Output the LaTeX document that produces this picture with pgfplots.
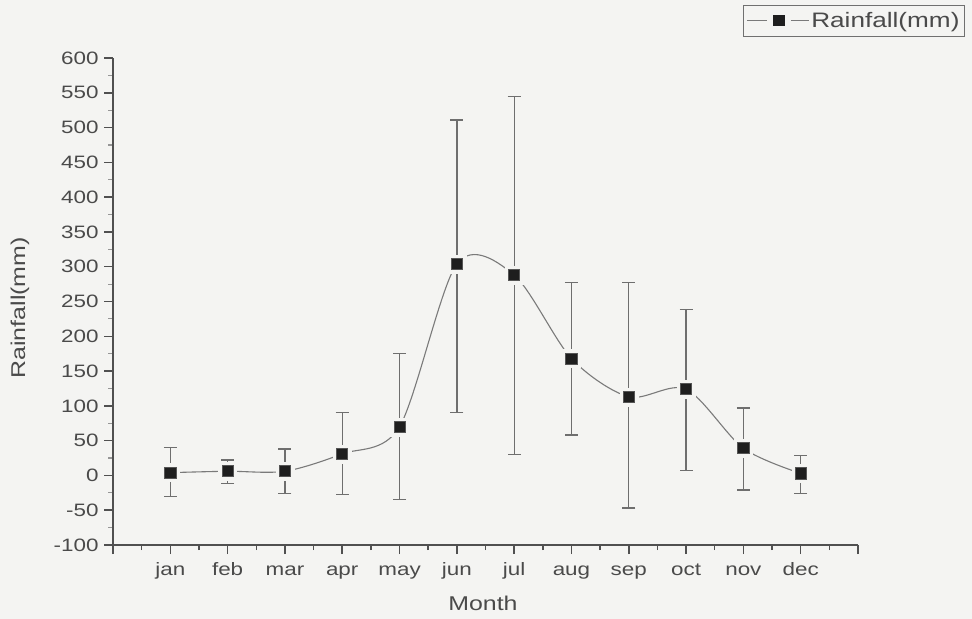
\documentclass[border=0pt]{standalone}
\usepackage{pgfplots}
\pgfplotsset{compat=1.18}
\usepackage{fontspec}
\setmainfont{Liberation Sans}[FakeStretch=1.25]
\definecolor{bg}{HTML}{F4F4F2}
\definecolor{axc}{HTML}{505050}
\definecolor{errc}{HTML}{6E6E6E}
\definecolor{lineg}{HTML}{7A7A7A}
\definecolor{mk}{HTML}{1E1E1E}
\definecolor{mkb}{HTML}{555555}
\definecolor{txt}{HTML}{4A4A4A}
\definecolor{legc}{HTML}{707070}
\pgfplotstableread{
x y ep em
0 4 36 34
1 6 16 18
2 6 32 32
3 31 59 58
4 70 105 105
5 304 207 214
6 288 257 258
7 168 109 110
8 113 164 160
9 124 114 117
10 39 58 60
11 3 26 29
}\rain
\begin{document}
\begin{tikzpicture}
\path[use as bounding box, fill=bg] (0,0) rectangle (972bp,619bp);
\begin{axis}[
  at={(113bp,74bp)}, anchor=south west,
  scale only axis, width=745bp, height=487bp,
  xmin=-1, xmax=12, ymin=-100, ymax=600,
  axis lines=left,
  axis line style={-, draw=axc, line width=1.6bp},
  xtick={-1,0,...,12},
  xticklabels={,jan,feb,mar,apr,may,jun,jul,aug,sep,oct,nov,dec,},
  minor x tick num=1,
  ytick={-100,-50,...,600}, minor y tick num=1,
  tick align=outside, major tick length=9bp, minor tick length=5bp,
  every tick/.style={draw=axc, line width=1.5bp},
  every minor y tick/.style={draw=axc!60, line width=1.2bp},
  /pgf/number format/assume math mode=true,
  ticklabel style={font=\fontsize{18}{21}\selectfont, text=txt},
  yticklabel style={xshift=-2bp},
  xticklabel style={text height=12bp, text depth=4bp, yshift=-6bp},
  every axis x label/.style={at={(axis description cs:0.4966,-0.119)}, anchor=center},
  every axis y label/.style={at={(axis description cs:-0.1248,0.487)}, rotate=90, anchor=center},
  label style={font=\fontsize{20}{24}\selectfont, text=txt},
  xlabel={Month}, ylabel={Rainfall(mm)},
  legend style={at={(1.1436,1.1088)}, anchor=north east, draw=legc, line width=1bp, fill=bg,
    font=\fontsize{21}{24}\selectfont, text=txt, inner xsep=3bp, inner ysep=5bp},
  legend cell align=left,
  clip=false,
]
\addplot[smooth, tension=0.5, draw=lineg, line width=1.1bp, no markers,
  legend image code/.code={\draw[draw=lineg, line width=1bp] (0bp,0bp) -- (20bp,0bp);
    \draw[draw=lineg, line width=1bp] (44bp,0bp) -- (62bp,0bp);
    \fill[mk] (27bp,-5bp) rectangle (38bp,5bp);}]
  table[x=x, y=y] {\rain};
\addlegendentry{Rainfall(mm)}
\addplot[forget plot, only marks, mark=square*, mark size=9bp, mark options={draw=bg, fill=bg}]
  table[x=x, y=y] {\rain};
\addplot[forget plot, only marks, mark=square*, mark size=5.6bp,
  mark options={fill=mk, draw=mkb, line width=0.8bp},
  error bars/.cd, y dir=both, y explicit,
  error bar style={draw=errc, line width=1.3bp},
  error mark options={rotate=90, mark size=6.5bp, draw=errc, line width=1.3bp}]
  table[x=x, y=y, y error plus=ep, y error minus=em] {\rain};
\end{axis}
\end{tikzpicture}
\end{document}
